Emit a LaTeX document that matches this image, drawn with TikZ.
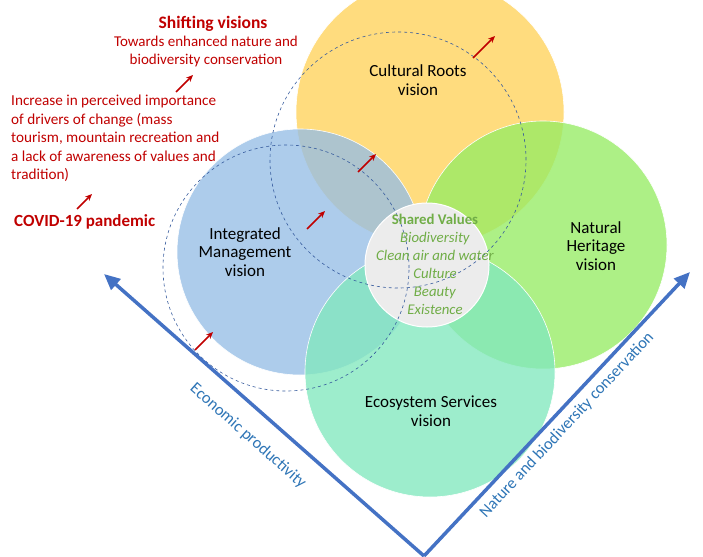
\documentclass[tikz,border=0pt]{standalone}
\usepackage{fontspec}
\setmainfont{Carlito}
\usetikzlibrary{arrows.meta}
\definecolor{redt}{HTML}{C00000}
\definecolor{greent}{HTML}{70AD47}
\definecolor{bluea}{HTML}{4472C4}
\definecolor{bluet}{HTML}{2E75B6}
\begin{document}
\begin{tikzpicture}[x=1pt,y=-1pt,
  venn/.style={circle,draw=white,line width=0.6pt,fill opacity=0.78,text opacity=1,inner sep=0pt},
  lab/.style={font=\fontsize{17}{18.5}\selectfont,align=center,text=black},
  dcirc/.style={circle,draw=bluea!80!black,dashed,line width=0.6pt,inner sep=0pt},
  rarr/.style={-{Stealth[length=7pt,width=6pt]},draw=redt,line width=1.6pt},
  barr/.style={-{Triangle[length=16pt,width=14pt]},draw=bluea,line width=3.5pt},
  redtext/.style={text=redt,font=\fontsize{15}{18}\selectfont,inner sep=0pt},
  axtext/.style={text=bluet,font=\fontsize{16.5}{19}\selectfont}]
\useasboundingbox (0,0) rectangle (703,556);
\node[venn,fill={rgb,255:red,255;green,210;blue,90},minimum size=268] (cr) at (430,112) {};
\node[venn,fill={rgb,255:red,150;green,190;blue,230},minimum size=246] (im) at (300,252) {};
\node[venn,fill={rgb,255:red,150;green,236;blue,100},minimum size=248] (nh) at (543,245) {};
\node[venn,fill={rgb,255:red,130;green,232;blue,190},minimum size=250] (es) at (430,372) {};
\node[circle,fill={rgb,255:red,236;green,236;blue,236},draw=white,line width=1pt,minimum size=124] (sv) at (427,265) {};
\node[dcirc,minimum size=256] (da) at (398,160) {};
\node[dcirc,minimum size=246] (db) at (286,268) {};
\node[lab] (crl) at (418,80) {Cultural Roots\\vision};
\node[lab] (iml) at (245,252) {Integrated\\Management\\vision};
\node[lab] (nhl) at (596,246) {Natural\\Heritage\\vision};
\node[lab] (esl) at (431,411) {Ecosystem Services\\vision};
\node[align=center,text=greent,font=\fontsize{14.8}{18}\selectfont] (svl) at (435,264)
 {\textbf{Shared Values}\\\textit{Biodiversity}\\\textit{Clean air and water}\\\textit{Culture}\\\textit{Beauty}\\\textit{Existence}};
% red arrows
\coordinate (r1a) at (473,58); \coordinate (r1b) at (495,36);
\coordinate (r2a) at (358,172); \coordinate (r2b) at (376,154);
\coordinate (r3a) at (307,229); \coordinate (r3b) at (325,211);
\coordinate (r4a) at (195,350); \coordinate (r4b) at (213,332);
\draw[rarr] (r1a) -- (r1b); \draw[rarr] (r2a) -- (r2b);
\draw[rarr] (r3a) -- (r3b); \draw[rarr] (r4a) -- (r4b);
% left text
\node[redtext,font=\fontsize{17.5}{20}\selectfont\bfseries] (sh) at (213,24) {Shifting visions};
\node[redtext,align=center] (tw) at (206,52) {Towards enhanced nature and\\biodiversity conservation};
\node[redtext,align=left,anchor=north west,font=\fontsize{15.2}{18.5}\selectfont] (inc) at (11,95)
 {Increase in perceived importance\\of drivers of change (mass\\tourism, mountain recreation and\\a lack of awareness of values and\\tradition)};
\node[redtext,font=\fontsize{17}{19}\selectfont\bfseries,anchor=west] (cov) at (14,222) {COVID-19 pandemic};
\coordinate (a1s) at (176,92); \coordinate (a1e) at (193,75);
\coordinate (a2s) at (77,209); \coordinate (a2e) at (92,194);
\draw[rarr] (a1s) -- (a1e); \draw[rarr] (a2s) -- (a2e);
% axes
\coordinate (o) at (424,556);
\coordinate (le) at (104,274);
\coordinate (re) at (690,272);
\draw[barr] (o) -- (le);
\draw[barr] (o) -- (re);
\node[axtext,rotate=-41.5] (ep) at (248,436) {Economic productivity};
\node[axtext,rotate=47] (nb) at (567,425) {Nature and biodiversity conservation};
\end{tikzpicture}
\end{document}
